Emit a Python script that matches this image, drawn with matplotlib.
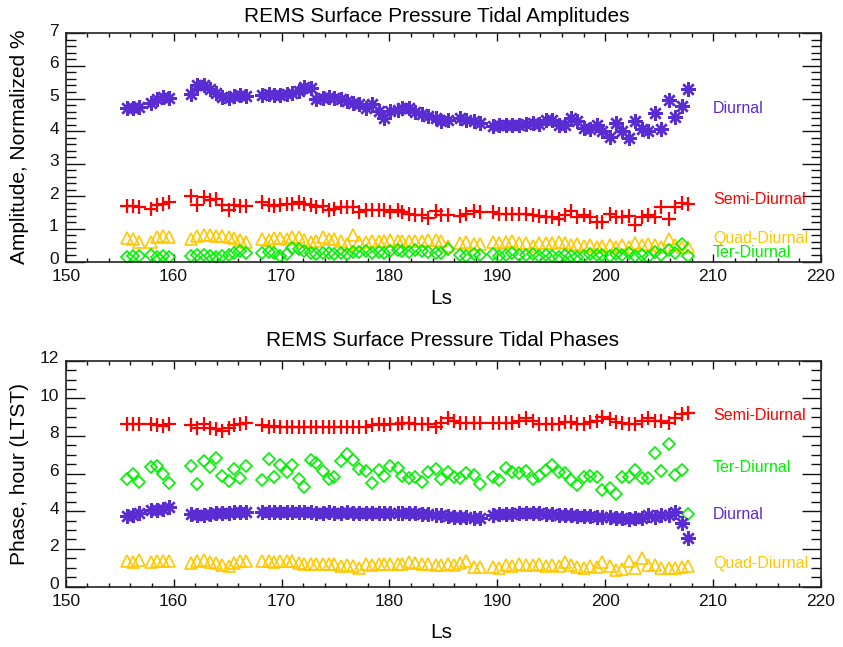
import numpy as np
import matplotlib.pyplot as plt
import matplotlib.transforms as mtransforms
from matplotlib.ticker import MultipleLocator

plt.rcParams['font.family'] = ['Liberation Sans', 'DejaVu Sans']

nan = np.nan

# Ls of each sol (gaps between the three observation blocks)
ls = [155.7, 156.2, 156.8, 157.9, 158.5, 159.0, 159.6,
      161.6, 162.2, 162.8, 163.4, 163.9, 164.5, 165.1, 165.6, 166.2, 166.7,
      168.2, 168.8, 169.3, 169.9, 170.5, 171.0, 171.6, 172.1, 172.7, 173.2,
      173.8, 174.4, 174.9, 175.5, 176.1, 176.6, 177.2, 177.8, 178.4, 179.0,
      179.5, 180.1, 180.8, 181.2, 181.8, 182.4,
      183.0, 183.6, 184.3, 184.8, 185.4, 186.0, 186.5, 187.1, 187.8, 188.4,
      189.6, 190.2, 190.8, 191.4, 192.0, 192.7, 193.3, 193.9, 194.5, 195.1,
      195.7, 196.3, 196.8, 197.4, 198.0, 198.6, 199.2,
      199.7, 200.4, 201.0, 201.6, 202.2, 202.8, 203.4, 204.0, 204.6, 205.2,
      205.9, 206.5, 207.1, 207.7]

# amplitudes (normalized %)
amp_diurnal = [4.70, 4.72, 4.75, 4.85, 4.98, 5.05, 5.02,
               5.15, 5.40, 5.42, 5.28, 5.18, 5.05, 5.02, 5.08, 5.12, 5.08,
               5.12, 5.13, 5.12, 5.10, 5.15, 5.18, 5.22, 5.36, 5.32, 5.00,
               5.03, 5.05, 5.03, 4.97, 4.92, 4.85, 4.82, 4.70, 4.82, 4.63,
               4.41, 4.61, 4.66, 4.72, 4.70, 4.59,
               4.51, 4.46, 4.41, 4.30, 4.35, nan, 4.41, 4.35, 4.30, 4.25,
               4.15, 4.18, 4.20, 4.20, 4.20, 4.22, 4.25, 4.22, 4.35, 4.35,
               4.20, 4.20, 4.41, 4.30, 4.10, 4.05, 4.20,
               4.01, 3.81, 4.25, 3.99, 3.79, 4.32, 4.05, 3.99, 4.54, 4.05,
               4.95, 4.43, 4.77, 5.28]
amp_semi = [1.70, 1.69, 1.67, 1.61, 1.73, 1.77, 1.83,
            2.00, 1.72, 1.98, 1.88, 1.93, 1.72, 1.59, 1.72, 1.69, 1.69,
            1.82, 1.72, 1.69, 1.72, 1.75, 1.75, 1.82, 1.75, 1.72, 1.67,
            1.69, 1.59, 1.62, 1.67, 1.67, 1.67, 1.51, 1.57, 1.59, 1.57,
            1.57, 1.51, 1.59, 1.51, 1.46, 1.44,
            1.44, 1.34, 1.55, 1.44, 1.44, nan, 1.41, 1.46, 1.55, 1.51,
            1.51, 1.46, 1.46, 1.46, 1.46, 1.46, 1.44, 1.41, 1.38, 1.36,
            1.31, 1.44, 1.55, 1.36, 1.44, 1.38, 1.21,
            1.21, 1.46, 1.36, 1.36, 1.41, 1.13, 1.36, 1.44, 1.36, 1.67,
            1.31, 1.67, 1.79, 1.75]
amp_quad = [0.73, 0.70, 0.60, 0.60, 0.75, 0.77, 0.75,
            0.70, 0.77, 0.80, 0.81, 0.79, 0.77, 0.75, 0.71, 0.67, 0.60,
            0.69, 0.65, 0.71, 0.71, 0.69, 0.74, 0.74, 0.65, 0.59, 0.62,
            0.74, 0.69, 0.69, 0.62, 0.54, 0.81, 0.59, 0.59, 0.64, 0.64,
            0.62, 0.65, 0.62, 0.64, 0.62, 0.64,
            0.62, 0.65, 0.67, 0.62, 0.47, nan, 0.57, 0.59, 0.53, 0.55,
            0.60, 0.58, 0.60, 0.62, 0.57, 0.58, 0.49, 0.57, 0.58, 0.58,
            0.59, 0.57, 0.50, 0.53, 0.47, 0.50, 0.45,
            0.47, 0.50, 0.45, 0.50, 0.45, 0.57, 0.52, 0.55, 0.50, 0.43,
            0.70, 0.50, 0.45, 0.45]
amp_ter = [0.15, 0.17, 0.18, 0.20, 0.15, 0.17, 0.15,
           0.17, 0.20, 0.20, 0.18, 0.15, 0.18, 0.20, 0.27, 0.33, 0.25,
           0.25, 0.30, 0.27, 0.17, 0.22, 0.42, 0.39, 0.32, 0.27, 0.22,
           0.27, 0.25, 0.22, 0.27, 0.22, 0.30, 0.30, 0.32, 0.27, 0.30,
           0.27, 0.32, 0.35, 0.33, 0.30, 0.35,
           0.32, 0.30, 0.27, 0.25, 0.37, nan, 0.20, 0.17, 0.23, 0.20,
           0.22, 0.17, 0.20, 0.25, 0.20, 0.20, 0.22, 0.17, 0.20, 0.17,
           0.15, 0.20, 0.17, 0.15, 0.17, 0.23, 0.20,
           0.20, 0.17, 0.23, 0.20, 0.25, 0.17, 0.20, 0.15, 0.30, 0.20,
           0.35, 0.25, 0.53, 0.17]

# phases (hour LTST)
ph_semi = [8.61, 8.61, 8.65, 8.61, 8.58, 8.53, 8.61,
           8.56, 8.44, 8.65, 8.44, 8.35, 8.26, 8.44, 8.56, 8.61, 8.70,
           8.60, 8.50, 8.55, 8.50, 8.47, 8.50, 8.47, 8.50, 8.47, 8.50,
           8.47, 8.50, 8.47, 8.50, 8.47, 8.50, 8.47, 8.45, 8.60, 8.65,
           8.58, 8.62, 8.65, 8.70, 8.68, 8.65,
           8.61, 8.65, 8.47, 8.70, 8.93, 8.79, 8.70, 8.70, 8.70, 8.70,
           8.70, 8.70, 8.70, 8.70, 8.82, 8.96, 8.82, 8.65, 8.65, 8.61,
           8.65, 8.75, 8.75, 8.61, 8.61, 8.75, 8.82,
           9.00, 8.88, 8.75, 8.70, 8.65, 8.61, 8.82, 8.93, 8.82, 8.82,
           8.70, 8.96, 9.18, 9.23]
ph_ter = [5.72, 5.98, 5.58, 6.37, 6.42, 5.98, 5.49,
          6.42, 5.46, 6.65, 6.37, 6.82, 5.89, 5.63, 6.25, 5.77, 6.42,
          5.67, 6.77, 5.81, 6.47, 6.07, 6.47, 5.72, 5.28, 6.72, 6.54,
          6.16, 5.72, 5.81, 6.68, 7.04, 6.72, 6.25, 6.12, 5.49, 6.19,
          5.89, 6.42, 6.30, 5.89, 5.77, 5.84,
          5.54, 6.07, 6.25, 5.72, 6.07, 5.81, 5.77, 6.02, 5.95, 5.46,
          5.81, 5.67, 6.30, 6.07, 6.02, 6.16, 5.72, 5.89, 6.19, 6.47,
          6.07, 6.02, 5.67, 5.37, 5.81, 5.89, 5.84,
          5.11, 5.25, 4.89, 5.84, 5.81, 6.19, 5.77, 5.77, 7.12, 6.12,
          7.56, 5.95, 6.19, 3.84]
ph_diurnal = [3.75, 3.82, 3.90, 4.05, 4.08, 4.12, 4.20,
              3.85, 3.80, 3.82, 3.85, 3.88, 3.90, 3.92, 3.95, 3.97, 3.98,
              3.95, 3.97, 3.98, 3.96, 3.95, 3.97, 3.96, 3.94, 3.95, 3.93,
              3.92, 3.94, 3.93, 3.92, 3.95, 3.93, 3.92, 3.90, 3.92, 3.93,
              3.90, 3.92, 3.93, 3.91, 3.90, 3.88,
              3.85, 3.83, 3.80, 3.78, 3.76, 3.72, 3.70, 3.68, 3.66, 3.65,
              3.82, 3.84, 3.86, 3.87, 3.88, 3.88, 3.88, 3.88, 3.86, 3.85,
              3.82, 3.80, 3.78, 3.76, 3.75, 3.73, 3.72,
              3.70, 3.68, 3.66, 3.62, 3.60, 3.63, 3.65, 3.80, 3.72, 3.78,
              3.80, 3.95, 3.35, 2.60]
ph_quad = [1.33, 1.28, 1.42, 1.28, 1.33, 1.33, 1.33,
           1.25, 1.33, 1.42, 1.28, 1.25, 1.16, 1.07, 1.25, 1.33, 1.33,
           1.33, 1.33, 1.28, 1.33, 1.33, 1.33, 1.25, 1.21, 1.21, 1.21,
           1.21, 1.21, 1.21, 1.11, 1.16, 1.11, 0.98, 1.21, 1.16, 1.21,
           1.21, 1.21, 1.21, 1.21, 1.28, 1.25,
           1.21, 1.21, 1.16, 1.16, 1.21, 1.16, 1.25, 1.33, 1.04, 1.04,
           1.04, 0.98, 1.16, 1.11, 1.21, 1.16, 1.16, 1.21, 1.11, 1.16,
           1.11, 1.28, 1.16, 1.04, 0.98, 1.11, 1.04,
           1.28, 1.11, 0.89, 0.93, 1.33, 0.98, 1.51, 1.16, 1.16, 0.98,
           0.98, 0.98, 1.04, 1.07]

purple = '#5a2dd2'
red = '#ff0000'
gold = '#ffc800'
green = '#00f000'

asterisk = (8, 2, 0)
styles = {
    'Diurnal': dict(marker=asterisk, color=purple, ms=10.5, mew=1.7),
    'Semi-Diurnal': dict(marker='+', color=red, ms=9.5, mew=1.6),
    'Ter-Diurnal': dict(marker='D', color=green, ms=6.5, mew=1.2, mfc='none'),
    'Quad-Diurnal': dict(marker='^', color=gold, ms=9, mew=1.2, mfc='none'),
}

fig = plt.figure(figsize=(8.43, 6.47), dpi=100)
W, H = 843, 647
x0, x1 = 65.7, 821.0
ax1 = fig.add_axes([x0 / W, 1 - 261.5 / H, (x1 - x0) / W, (261.5 - 33.3) / H])
ax2 = fig.add_axes([x0 / W, 1 - 586.5 / H, (x1 - x0) / W, (586.5 - 360.7) / H])

# top: amplitudes
for name, vals in [('Diurnal', amp_diurnal), ('Semi-Diurnal', amp_semi),
                   ('Quad-Diurnal', amp_quad), ('Ter-Diurnal', amp_ter)]:
    ax1.plot(ls, vals, ls='none', **styles[name])
# bottom: phases
for name, vals in [('Semi-Diurnal', ph_semi), ('Ter-Diurnal', ph_ter),
                   ('Diurnal', ph_diurnal), ('Quad-Diurnal', ph_quad)]:
    ax2.plot(ls, vals, ls='none', **styles[name])

lab_kw = dict(fontsize=11.5, va='center', ha='left', clip_on=False)
ax1.text(210, 4.68, 'Diurnal', color=purple, **lab_kw)
ax1.text(210, 1.89, 'Semi-Diurnal', color=red, **lab_kw)
ax1.text(210, 0.72, 'Quad-Diurnal', color=gold, **lab_kw)
ax1.text(210, 0.29, 'Ter-Diurnal', color=green, **lab_kw)
ax2.text(210, 9.11, 'Semi-Diurnal', color=red, **lab_kw)
ax2.text(210, 6.30, 'Ter-Diurnal', color=green, **lab_kw)
ax2.text(210, 3.85, 'Diurnal', color=purple, **lab_kw)
ax2.text(210, 1.20, 'Quad-Diurnal', color=gold, **lab_kw)

ax1.set_ylim(0, 7)
ax1.yaxis.set_major_locator(MultipleLocator(1))
ax1.yaxis.set_minor_locator(MultipleLocator(0.2))
ax2.set_ylim(0, 12)
ax2.yaxis.set_major_locator(MultipleLocator(2))
ax2.yaxis.set_minor_locator(MultipleLocator(0.5))

# nudge y tick labels up a little, as in the original
lift = mtransforms.ScaledTranslation(0, 2.5 / 72, fig.dpi_scale_trans)

for ax in (ax1, ax2):
    ax.set_xlim(150, 220)
    ax.xaxis.set_major_locator(MultipleLocator(10))
    ax.xaxis.set_minor_locator(MultipleLocator(2))
    ax.tick_params(which='both', direction='in', top=True, right=True,
                   labelsize=12.5, colors='#111111', width=1.0)
    ax.tick_params(axis='x', which='major', length=6, pad=5.5)
    ax.tick_params(axis='x', which='minor', length=3)
    ax.tick_params(axis='y', which='major', length=14, pad=5)
    ax.tick_params(axis='y', which='minor', length=7)
    for lbl in ax.get_yticklabels():
        lbl.set_verticalalignment('center_baseline')
        lbl.set_transform(lbl.get_transform() + lift)
    for s in ax.spines.values():
        s.set_linewidth(1.2)
        s.set_color('#222222')

fig.text(437 / W, 1 - 17 / H, 'REMS Surface Pressure Tidal Amplitudes',
         ha='center', va='center', fontsize=15)
fig.text(442 / W, 1 - 341 / H, 'REMS Surface Pressure Tidal Phases',
         ha='center', va='center', fontsize=15)
fig.text(441 / W, 1 - 298 / H, 'Ls', ha='center', va='center', fontsize=15)
fig.text(441 / W, 1 - 633 / H, 'Ls', ha='center', va='center', fontsize=15)
fig.text(20 / W, 1 - 147 / H, 'Amplitude, Normalized %', rotation=90,
         ha='center', va='center', fontsize=15)
fig.text(20 / W, 1 - 474 / H, 'Phase, hour (LTST)', rotation=90,
         ha='center', va='center', fontsize=15)

fig.savefig('out.png', dpi=100)
